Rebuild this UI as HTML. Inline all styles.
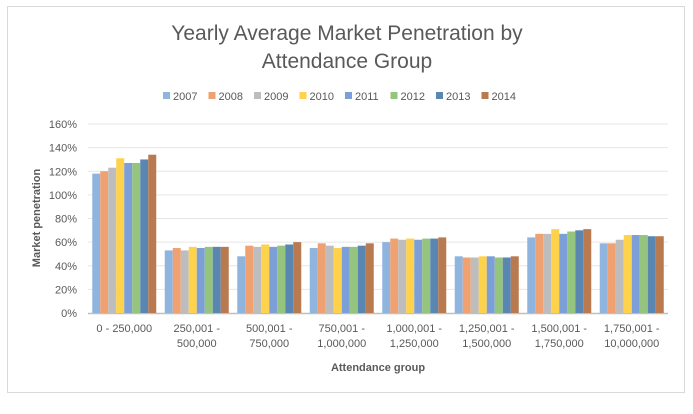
<!DOCTYPE html>
<html><head><meta charset="utf-8"><style>
body{margin:0;background:#fff;font-family:"Liberation Sans",Arial,sans-serif}
</style></head><body>
<svg width="693" height="409" viewBox="0 0 693 409" xmlns="http://www.w3.org/2000/svg">
<rect x="7.5" y="6.5" width="677" height="386" fill="#fff" stroke="#d9d9d9"/>
<text x="347" y="40" text-anchor="middle" font-size="21" fill="#595959">Yearly Average Market Penetration by</text>
<text x="347" y="68" text-anchor="middle" font-size="21" fill="#595959">Attendance Group</text>
<g id="legend"></g>
<g id="grid"></g>
<g id="bars"></g>
<g id="xlabels"></g>
<text x="40" y="218" transform="rotate(-90 40 218)" text-anchor="middle" font-size="11" font-weight="bold" fill="#595959">Market penetration</text>
<text x="378" y="371" text-anchor="middle" font-size="11" font-weight="bold" fill="#595959">Attendance group</text>
</svg>
<script>
const categories=[["0 - 250,000"],["250,001 -","500,000"],["500,001 -","750,000"],["750,001 -","1,000,000"],["1,000,001 -","1,250,000"],["1,250,001 -","1,500,000"],["1,500,001 -","1,750,000"],["1,750,001 -","10,000,000"]];
const years=["2007","2008","2009","2010","2011","2012","2013","2014"];
const colors=["#8fb4de","#f0a172","#bdbdbd","#ffd24c","#7b9fd6","#95c47e","#5a87b2","#b87a4e"];
const v2007=[118,53,48,55,60,48,64,59];
const v2008=[120,55,57,59,63,47,67,59];
const v2009=[123,53,56,57,62,47,67,62];
const v2010=[131,56,58,55,63,48,71,66];
const v2011=[127,55,56,56,62,48,67,66];
const v2012=[127,56,57,56,63,47,69,66];
const v2013=[130,56,58,57,63,47,70,65];
const v2014=[134,56,60,59,64,48,71,65];
const series=[v2007,v2008,v2009,v2010,v2011,v2012,v2013,v2014];
const yTicks=[0,20,40,60,80,100,120,140,160];
const NS="http://www.w3.org/2000/svg";
const x0=88,x1=668,yb=313,yt=124,ymax=160;
const y=v=>yb-(v/ymax)*(yb-yt);
const gw=(x1-x0)/categories.length;
function mk(tag,attrs,parent){const e=document.createElementNS(NS,tag);for(const k in attrs)e.setAttribute(k,attrs[k]);parent.appendChild(e);return e;}
const grid=document.getElementById('grid');
yTicks.forEach(t=>{
 if(t>0){const l=mk('line',{x1:x0,x2:x1,y1:y(t),y2:y(t),stroke:'#e6e6e6'},grid);
 
 }
 const tx=mk('text',{x:77,y:y(t)+4,'text-anchor':'end','font-size':11,fill:'#595959'},grid);
 tx.textContent=t+'%';
 
 
});
const bars=document.getElementById('bars');
const bw=8;
series.forEach((s,si)=>{
 s.forEach((v,ci)=>{
  const cx=x0+gw*ci+gw/2;
  const r=mk('rect',{x:cx-bw*4+si*bw,y:y(v),width:bw,height:yb-y(v),fill:colors[si]},bars);
  
  
 });
});
const ax=mk('line',{x1:x0,x2:x1,y1:yb+0.5,y2:yb+0.5,stroke:'#bfbfbf','stroke-width':1.5},grid);


const xl=document.getElementById('xlabels');
categories.forEach((c,ci)=>{
 const cx=x0+gw*ci+gw/2;
 c.forEach((line,li)=>{
  const t=mk('text',{x:cx,y:332+li*15,'text-anchor':'middle','font-size':11,fill:'#595959'},xl);
  t.textContent=line;
  
  
 });
});
const lg=document.getElementById('legend');
let lx=163;
years.forEach((yr,i)=>{
 const r=mk('rect',{x:lx,y:92,width:7,height:7,fill:colors[i]},lg);
 
 
 const t=mk('text',{x:lx+10,y:100,'font-size':11,fill:'#595959'},lg);
 t.textContent=yr;
 
 
 lx+=45.5;
});
</script>
</body></html>
